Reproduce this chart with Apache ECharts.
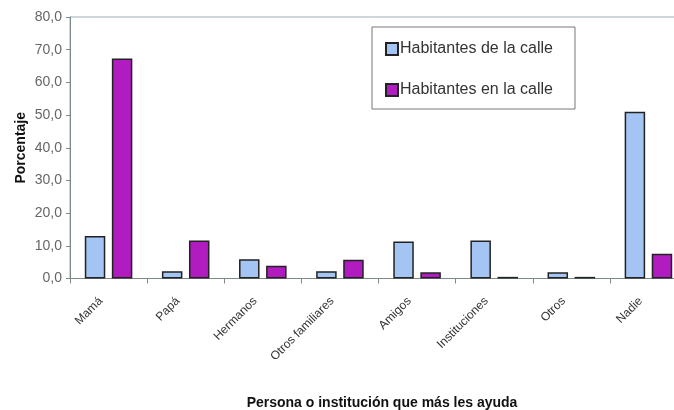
<!DOCTYPE html>
<html><head><meta charset="utf-8">
<script src="https://cdn.jsdelivr.net/npm/echarts@6/dist/echarts.min.js"></script>
<style>html,body{margin:0;padding:0;background:#fff}#c{width:674px;height:410px}</style>
</head><body><div id="c"></div>
<script>
const categories = ['Mamá','Papá','Hermanos','Otros familiares','Amigos','Instituciones','Otros','Nadie'];
const deLaCalle = [13.0, 2.2, 5.9, 2.2, 11.3, 11.6, 1.9, 51.0];
const enLaCalle = [67.3, 11.6, 3.9, 5.7, 1.9, 0.5, 0.5, 7.6];
const seriesNames = ['Habitantes de la calle','Habitantes en la calle'];
const yTicks = {min:0, max:80, interval:10};

const chart = echarts.init(document.getElementById('c'), null, {renderer:'canvas'});
chart.setOption({
  animation:false,
  textStyle:{fontFamily:'Liberation Sans'},
  grid:{left:70, top:17, width:617, height:261.5, outerBoundsMode:'none', containLabel:false,
        show:true, borderColor:'#9aaeb4', borderWidth:1, backgroundColor:'transparent'},
  legend:{
    orient:'vertical', left:372, top:27,
    padding:[14,22,11,13], itemGap:25, itemWidth:12, itemHeight:12,
    borderColor:'#777', borderWidth:1, borderRadius:0,
    icon:'rect',
    textStyle:{fontSize:16, color:'#333', fontFamily:'Liberation Sans', padding:[0,0,0,-3]},
    data:seriesNames
  },
  xAxis:{
    type:'category', data:categories,
    axisLine:{lineStyle:{color:'#7d8a8a', width:1}},
    axisTick:{show:true, length:5, alignWithLabel:false, lineStyle:{color:'#7d8a8a'}},
    axisLabel:{rotate:45, fontSize:12, color:'#333', margin:13, padding:[0,11,0,0], interval:0},
    name:'Persona o institución que más les ayuda', nameLocation:'middle', nameGap:118,
    nameMoveOverlap:false,
    nameTextStyle:{fontWeight:'bold', fontSize:14, color:'#111', fontFamily:'Liberation Sans', padding:[0,0,0,7]}
  },
  yAxis:{
    type:'value', min:yTicks.min, max:yTicks.max, interval:yTicks.interval,
    axisLine:{show:true, lineStyle:{color:'#7d8a8a'}},
    axisTick:{show:true, length:4, lineStyle:{color:'#7d8a8a'}},
    splitLine:{show:false},
    axisLabel:{fontSize:14, color:'#666', margin:8, formatter:v=>v.toFixed(1).replace('.',',')},
    name:'Porcentaje', nameLocation:'middle', nameGap:42, nameMoveOverlap:false,
    nameTextStyle:{fontWeight:'bold', fontSize:14, color:'#111', fontFamily:'Liberation Sans'}
  },
  series:[
    {name:seriesNames[0], type:'bar', data:deLaCalle, barWidth:20.5, barGap:'32%',
     itemStyle:{color:'#a4c4f4', borderColor:'#222', borderWidth:1.5}},
    {name:seriesNames[1], type:'bar', data:enLaCalle, barWidth:20.5,
     itemStyle:{color:'#b01cc0', borderColor:'#222', borderWidth:1.5}}
  ]
});
</script></body></html>
